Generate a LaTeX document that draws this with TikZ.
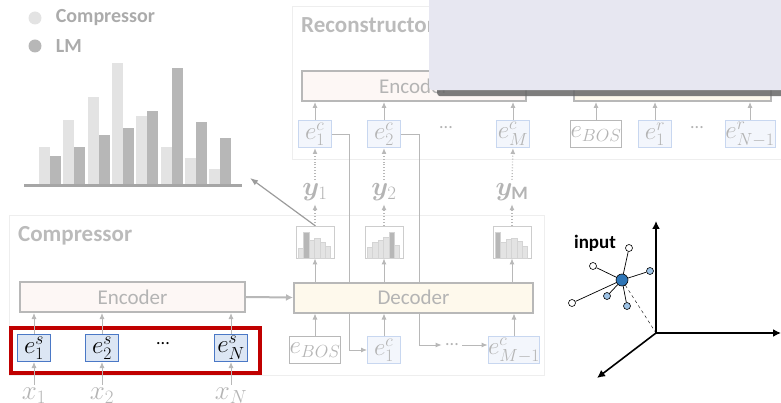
\RequirePackage{fix-cm}
\documentclass[tikz,border=0pt]{standalone}
\usepackage{amsmath}
\usepackage{bm}
\usepackage{fontspec}
\setmainfont{Carlito}
\usetikzlibrary{positioning, arrows.meta, shadows}

\definecolor{lgray}{HTML}{B8B8B8}
\definecolor{tgray}{HTML}{B4B4B4}
\definecolor{panel}{HTML}{EEEEEE}
\definecolor{sfill}{HTML}{DCE6F4}
\definecolor{sline}{HTML}{4A78C6}
\definecolor{cfill}{HTML}{F3F6FC}
\definecolor{cline}{HTML}{C8D7F0}
\definecolor{encfill}{HTML}{FDF7F5}
\definecolor{decfill}{HTML}{FEF9EC}
\definecolor{redbox}{HTML}{C00000}
\definecolor{barlight}{HTML}{E3E3E3}
\definecolor{bardark}{HTML}{B7B7B7}
\definecolor{ptblue}{HTML}{2E75B6}
\definecolor{ptlight}{HTML}{9DC3E6}
\definecolor{cover}{HTML}{E7E7F1}

\tikzset{
  tok/.style={line width=1pt, minimum width=33pt, minimum height=27pt, inner sep=0pt,
    font=\fontsize{25}{26}\selectfont},
  stok/.style={tok, draw=sline, fill=sfill},
  ctok/.style={tok, draw=cline, fill=cfill, text=tgray},
  btok/.style={tok, draw=lgray, line width=1.4pt, fill=white, text=tgray, minimum width=44pt},
  block/.style={draw=lgray, line width=2pt, text=tgray, minimum height=30pt,
    font=\fontsize{21}{24}\selectfont},
  hist/.style={draw=lgray!70, line width=0.8pt, minimum width=38pt, minimum height=32pt, inner sep=0pt},
  lbl/.style={text=tgray, font=\fontsize{27}{28}\selectfont},
  dots/.style={text=tgray, font=\fontsize{18}{20}\selectfont},
  title/.style={text=tgray!90, font=\bfseries\fontsize{23}{26}\selectfont, anchor=west, inner sep=0pt},
  arr/.style={draw=lgray, line width=0.9pt, -{Latex[length=6pt,width=5pt]}},
  darr/.style={arr, dotted, line width=1.3pt},
  pt/.style={circle, draw=black, line width=0.6pt, minimum size=7pt, inner sep=0pt},
}

\begin{document}
\begin{tikzpicture}[x=1pt, y=-1pt]
\useasboundingbox (0,0) rectangle (781,403);

% legend and bar chart
\node [circle, fill=barlight, minimum size=13pt, inner sep=0pt] (legc) at (35,18) {};
\node [title, text=tgray!95!black, font=\bfseries\fontsize{20}{22}\selectfont, right=14pt of legc] {Compressor};
\node [circle, fill=bardark, minimum size=13pt, inner sep=0pt] (legl) at (35,46) {};
\node [title, text=tgray!95!black, font=\bfseries\fontsize{20}{22}\selectfont, right=14pt of legl] {LM};
\foreach \lt/\dt [count=\i] in {147/156,120/147,97/135,63/128,116/111,147/68,158/122,169/138} {
  \fill [barlight] (39+24.3*\i-24.3,185) rectangle ++(11,\lt-185);
  \fill [bardark] (50+24.3*\i-24.3,185) rectangle ++(11,\dt-185);
}
\draw [line width=3pt, color=lgray!90!black] (24,186) -- (242,186);
\coordinate (chartend) at (250,178);

% panels
\draw [panel, line width=1pt] (292,7) rectangle (795,160);
\draw [panel, line width=1pt] (9,216) rectangle (544,375);
\node [title] at (301,25) {Reconstructor};
\node [title] at (18,236) {Compressor};

% compressor
\node [block, fill=encfill, minimum width=225pt] (cenc) at (132.5,297) {Encoder};
\node [stok] (e1s) at (34,348) {$e^{s}_{1}$};
\node [stok] (e2s) at (102,348) {$e^{s}_{2}$};
\node [font=\fontsize{18}{20}\selectfont] (sdots) at (163,344) {...};
\node [stok] (eNs) at (231,348) {$e^{s}_{N}$};
\draw [redbox, line width=4pt] (11,328) rectangle (260,373);
\node [lbl] (x1) at (34,396) {$x_1$};
\node [lbl] (x2) at (102,396) {$x_2$};
\node [lbl] (xN) at (231,396) {$x_N$};
\foreach \n/\e in {x1/e1s, x2/e2s, xN/eNs} {
  \draw [arr] (\n.north) -- (\e.south);
  \draw [arr] (\e.north) -- (\e |- cenc.south);
}

% decoder inputs
\node [btok] (dbos) at (315,350) {$e_{BOS}$};
\node [ctok] (de1) at (384,350) {$e^{c}_{1}$};
\node [dots] (ddots) at (452,345) {...};
\node [ctok, minimum width=50pt] (deM) at (514,350) {$e^{c}_{M-1}$};

% reconstructor
\node [ctok] (re1) at (315,134) {$e^{c}_{1}$};
\node [ctok] (re2) at (384,134) {$e^{c}_{2}$};
\node [dots] (rdots) at (446,128) {...};
\node [ctok] (reM) at (513,134) {$e^{c}_{M}$};
\node [btok] (rbos) at (596,134) {$e_{BOS}$};
\node [ctok] (rr1) at (655,134) {$e^{r}_{1}$};
\node [dots] (rrdots) at (697,128) {...};
\node [ctok, minimum width=50pt] (rrN) at (750,134) {$e^{r}_{N-1}$};

% feedback lines (behind decoder)
\draw [arr] (re1.east) -- ++(17,0) |- (de1.west);
\draw [arr] (re2.east) -- ++(18,0) |- (ddots.west);
\draw [arr] (ddots.east) -- (ddots.east -| deM.west);

\node [block, fill=decfill, minimum width=239pt] (dec) at (413.5,297.5) {Decoder};
\draw [line width=2pt, lgray, -{Latex[length=7pt,width=7pt]}] (cenc.east) -- (dec.west);
\foreach \t in {dbos, de1, deM}
  \draw [arr] (\t.north) -- (\t |- dec.south);

% output distributions
\node [hist] (h1) at (315,242) {};
\node [hist] (h2) at (384,242) {};
\node [hist] (hM) at (512,242) {};
\foreach \h/\c [count=\i] in {10/barlight,26/bardark,18/barlight,20/barlight,16/barlight,12/barlight}
  \filldraw [fill=\c, draw=lgray!60, line width=0.4pt] ([xshift=2.6pt+5.4pt*\i-5.4pt]h1.south west) rectangle ++(5.4,-\h);
\foreach \h/\c [count=\i] in {11/barlight,16/barlight,18/barlight,21/barlight,26/bardark,13/barlight}
  \filldraw [fill=\c, draw=lgray!60, line width=0.4pt] ([xshift=2.6pt+5.4pt*\i-5.4pt]h2.south west) rectangle ++(5.4,-\h);
\foreach \h/\c [count=\i] in {26/bardark,16/barlight,19/barlight,20/barlight,17/barlight,12/barlight}
  \filldraw [fill=\c, draw=lgray!60, line width=0.4pt] ([xshift=2.6pt+5.4pt*\i-5.4pt]hM.south west) rectangle ++(5.4,-\h);
\node [lbl] (y1) at (315,192) {$\bm{y}_{1}$};
\node [lbl] (y2) at (384,192) {$\bm{y}_{2}$};
\node [lbl] (yM) at (512,192) {$\bm{y}_{\mathbf{M}}$};
\foreach \h/\y/\r in {h1/y1/re1, h2/y2/re2, hM/yM/reM} {
  \draw [arr] (\h |- dec.north) -- (\h.south);
  \draw [darr] (\h.north) -- (\y.south);
  \draw [darr] (\y.north) -- (\r.south);
}
\draw [draw=lgray!85!black, line width=1.2pt, -{Latex[length=8pt,width=6pt]}] (h1.north) -- (chartend);

% reconstructor blocks
\node [block, fill=encfill, minimum width=224pt] (renc) at (414,86) {Encoder};
\node [block, fill=decfill, minimum width=197pt] (rdec) at (672.5,86) {};
\foreach \t in {re1, re2, reM}
  \draw [arr] (\t.north) -- (\t |- renc.south);
\foreach \t in {rbos, rr1, rrN}
  \draw [arr] (\t.north) -- (\t |- rdec.south);

% cover panel
\node [fill=cover, rounded corners=3pt, anchor=north west, minimum width=370pt, minimum height=94pt,
  drop shadow={shadow xshift=8pt, shadow yshift=-6pt, opacity=0.85, fill=black!60}] (pane) at (429,-4) {};

% embedding space
\coordinate (o) at (656,333);
\coordinate (zend) at (656,221);
\coordinate (xend) at (781,333);
\coordinate (yend) at (597,378);
\foreach \a in {zend, xend, yend}
  \draw [line width=1.6pt, -{Latex[length=8pt,width=8pt]}] (o) -- (\a);
\node [pt, fill=ptblue, minimum size=12pt] (inp) at (622,280) {};
\node [pt, fill=white] (n1) at (629,248) {};
\node [pt, fill=white] (n2) at (593,266) {};
\node [pt, fill=ptlight] (n3) at (650,271) {};
\node [pt, fill=ptlight] (n4) at (607,296) {};
\node [pt, fill=ptlight] (n5) at (627,306) {};
\node [pt, fill=white] (n6) at (572,303) {};
\foreach \n in {n1,n2,n3,n4,n5,n6}
  \draw [line width=0.7pt] (inp) -- (\n);
\draw [dashed, line width=0.4pt] (inp) -- (o);
\node [font=\bfseries\fontsize{19}{20}\selectfont] (inlbl) at (595,243) {input};
\end{tikzpicture}
\end{document}
